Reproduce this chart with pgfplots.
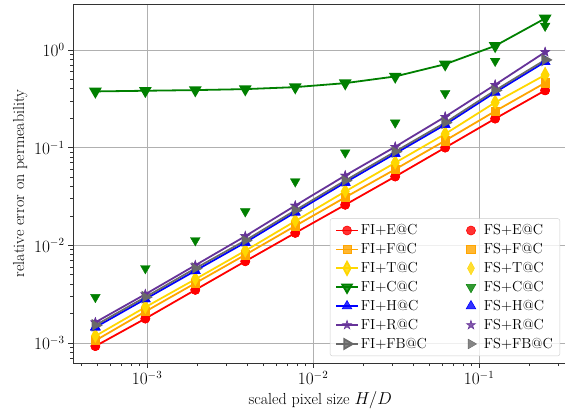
\documentclass[border=0pt]{standalone}
\usepackage{pgfplots}
\usepackage{pgfplotstable}
\pgfplotsset{compat=1.18}
\definecolor{cRed}{RGB}{255,0,0}
\definecolor{cOrange}{RGB}{255,165,0}
\definecolor{cGold}{RGB}{255,215,0}
\definecolor{cGreen}{RGB}{0,128,0}
\definecolor{cBlue}{RGB}{0,0,255}
\definecolor{cPurple}{RGB}{102,51,153}
\definecolor{cGray}{RGB}{105,105,105}
\definecolor{cGrid}{RGB}{176,176,176}

\pgfdeclareplotmark{fstar}{%
  \pgfpathmoveto{\pgfqpointpolar{90}{\pgfplotmarksize}}%
  \pgfpathlineto{\pgfqpointpolar{126}{0.382\pgfplotmarksize}}%
  \pgfpathlineto{\pgfqpointpolar{162}{\pgfplotmarksize}}%
  \pgfpathlineto{\pgfqpointpolar{198}{0.382\pgfplotmarksize}}%
  \pgfpathlineto{\pgfqpointpolar{234}{\pgfplotmarksize}}%
  \pgfpathlineto{\pgfqpointpolar{270}{0.382\pgfplotmarksize}}%
  \pgfpathlineto{\pgfqpointpolar{306}{\pgfplotmarksize}}%
  \pgfpathlineto{\pgfqpointpolar{342}{0.382\pgfplotmarksize}}%
  \pgfpathlineto{\pgfqpointpolar{18}{\pgfplotmarksize}}%
  \pgfpathlineto{\pgfqpointpolar{54}{0.382\pgfplotmarksize}}%
  \pgfpathclose
  \pgfusepathqfillstroke}

\pgfplotstableread{
h E F T C H R FB SC
0.25 0.385 0.46 0.555 2.10 0.755 0.95 0.79 1.76
0.125 0.198 0.236 0.29 1.10 0.368 0.44 0.385 0.77
0.0625 0.100 0.118 0.138 0.714 0.172 0.207 0.18 0.36
0.03125 0.0506 0.060 0.070 0.535 0.087 0.102 0.091 0.18
0.015625 0.026 0.031 0.0356 0.457 0.044 0.0518 0.046 0.089
0.0078125 0.0134 0.0158 0.0177 0.416 0.0218 0.0255 0.0228 0.045
0.00390625 0.00687 0.0080 0.0088 0.397 0.0107 0.0124 0.0112 0.0222
0.001953125 0.0035 0.0041 0.0045 0.388 0.0055 0.00625 0.0058 0.01125
0.0009765625 0.00178 0.0021 0.00233 0.382 0.00282 0.00316 0.00295 0.00582
0.00048828125 0.00093 0.00106 0.00118 0.376 0.00145 0.00163 0.00152 0.00295
}\data

\pgfplotsset{
  mE/.style={mark=*, mark size=4.5pt},
  mF/.style={mark=square*, mark size=4.2pt},
  mT/.style={mark=diamond*, mark size=6.5pt, mark options={xscale=0.72}},
  mC/.style={mark=triangle*, mark size=5.6pt, mark options={rotate=180}},
  mH/.style={mark=triangle*, mark size=5.6pt},
  mR/.style={mark=fstar, mark size=4.6pt},
  mFB/.style={mark=triangle*, mark size=5.6pt, mark options={rotate=-90}},
  fi/.style={line width=1.8pt, mark options={solid, line width=0.6pt, fill=#1, draw=#1}, color=#1,
    legend image code/.code={\draw[mark repeat=2,mark phase=2] plot coordinates {(0pt,0pt) (11pt,0pt) (22pt,0pt)};}},
  fs/.style={only marks, mark options={solid, line width=0.6pt, fill=#1, draw=#1}, color=#1,
    legend image code/.code={\path[draw=none,fill=none] (0pt,0pt) (22pt,0pt); \draw[only marks] plot coordinates {(11pt,0pt)};}},
}

\begin{document}
\begin{tikzpicture}
\begin{axis}[
  xmode=log, ymode=log,
  scale only axis, width=494.5pt, height=359pt,
  xmin=3.58e-4, xmax=0.341, ymin=6.25e-4, ymax=2.95,
  axis line style={black!80, line width=0.8pt},
  tick style={black!80, line width=0.8pt},
  tick align=outside, major tick length=5pt, minor tick length=3pt,
  xtick pos=bottom, ytick pos=left,
  grid=major, major grid style={cGrid, line width=0.8pt},
  tick label style={font=\fontsize{16}{19}\selectfont},
  label style={font=\fontsize{16}{19}\selectfont},
  xlabel={scaled pixel size $H/D$},
  ylabel={relative error on permeability},
  legend style={at={(1,0)}, anchor=south east, xshift=-7.5pt, yshift=7pt,
    draw=black!20, rounded corners=2pt, fill=white, fill opacity=0.8, text opacity=1,
    font=\fontsize{14.5}{17}\selectfont, row sep=3.2pt, inner xsep=5pt, inner ysep=4pt,
    /tikz/every even column/.append style={column sep=31pt}},
  legend columns=7, transpose legend,
  legend cell align=left,
]
\addplot[fi=cRed, mE] table[x=h, y=E] {\data}; \addlegendentry{FI+E@C}
\addplot[fi=cOrange, mF] table[x=h, y=F] {\data}; \addlegendentry{FI+F@C}
\addplot[fi=cGold, mT] table[x=h, y=T] {\data}; \addlegendentry{FI+T@C}
\addplot[fi=cGreen, mC] table[x=h, y=C] {\data}; \addlegendentry{FI+C@C}
\addplot[fi=cBlue, mH] table[x=h, y=H] {\data}; \addlegendentry{FI+H@C}
\addplot[fi=cPurple, mR] table[x=h, y=R] {\data}; \addlegendentry{FI+R@C}
\addplot[fi=cGray, mFB] table[x=h, y=FB] {\data}; \addlegendentry{FI+FB@C}
\addplot[fs=cRed, mE] table[x=h, y=E] {\data}; \addlegendentry{FS+E@C}
\addplot[fs=cOrange, mF] table[x=h, y=F] {\data}; \addlegendentry{FS+F@C}
\addplot[fs=cGold, mT] table[x=h, y=T] {\data}; \addlegendentry{FS+T@C}
\addplot[fs=cGreen, mC] table[x=h, y=SC] {\data}; \addlegendentry{FS+C@C}
\addplot[fs=cBlue, mH] table[x=h, y=H] {\data}; \addlegendentry{FS+H@C}
\addplot[fs=cPurple, mR] table[x=h, y=R] {\data}; \addlegendentry{FS+R@C}
\addplot[fs=cGray, mFB] table[x=h, y=FB] {\data}; \addlegendentry{FS+FB@C}
\end{axis}
\pgfresetboundingbox
\path ([shift={(-73pt,-56pt)}]current axis.south west) rectangle ([shift={(-2.5pt,4pt)}]current axis.north east);
\end{tikzpicture}
\end{document}
